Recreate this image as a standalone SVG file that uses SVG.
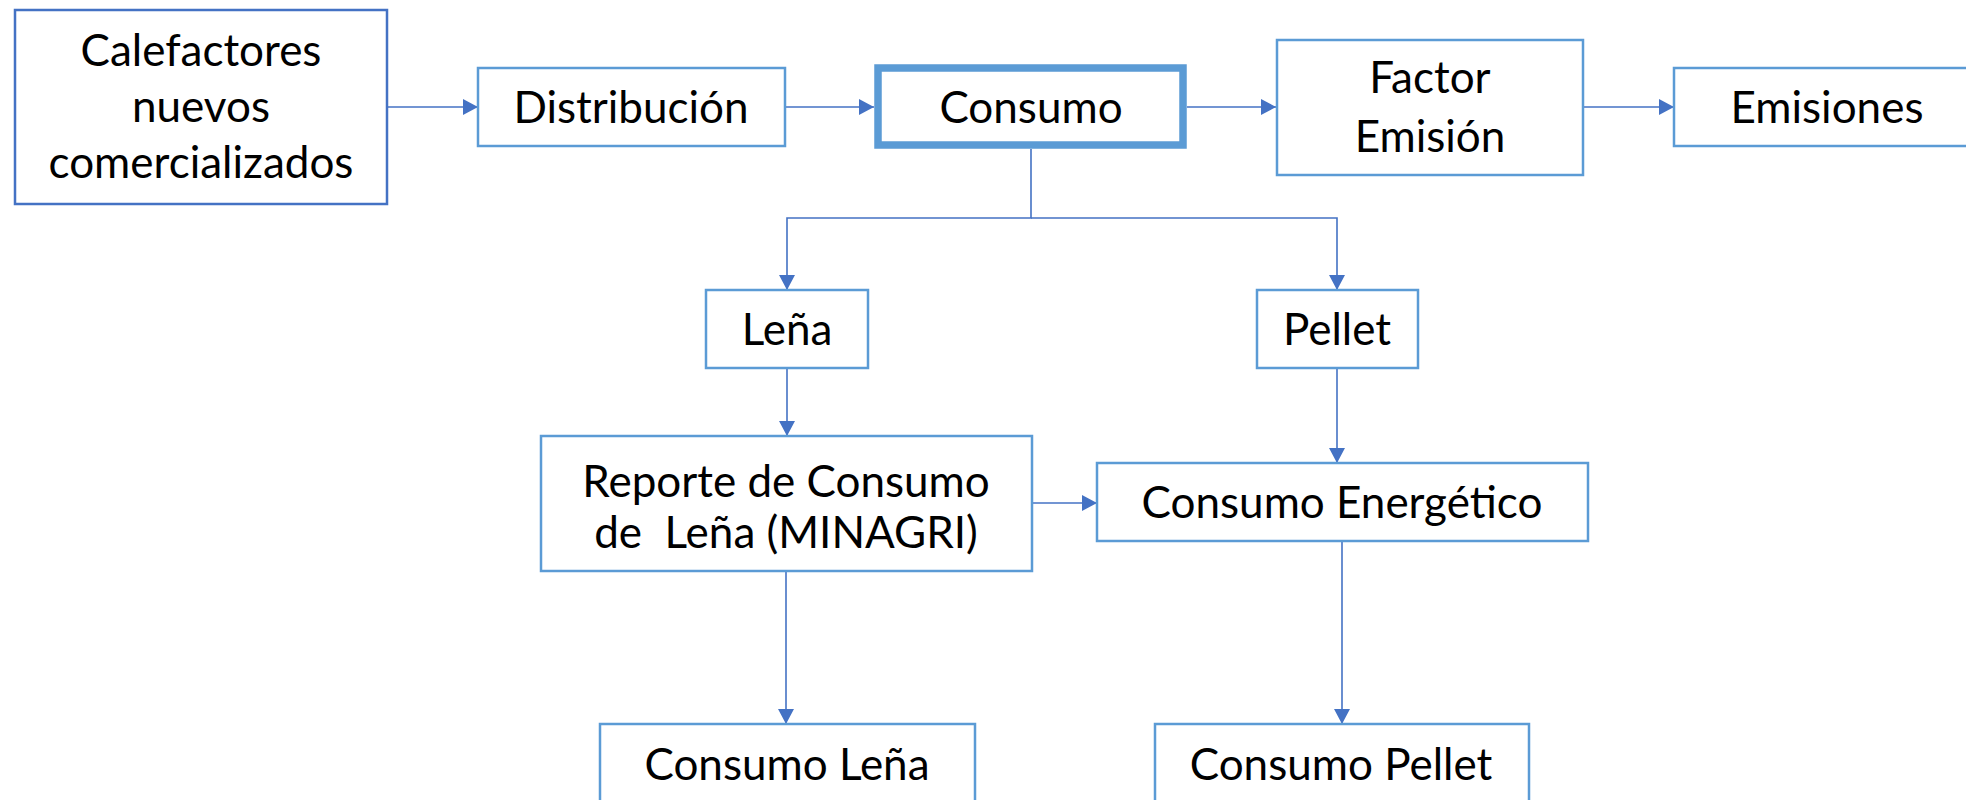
<svg xmlns="http://www.w3.org/2000/svg" width="1966" height="800" viewBox="0 0 1966 800">
<defs>
<style>
.box{fill:#ffffff;stroke:#5B9BD5;stroke-width:2.5}
.dark{stroke:#4472C4}
.thick{stroke-width:7.5}
.lbl{font-family:Lato,"Liberation Sans",sans-serif;font-size:44px;fill:#000000;text-anchor:middle}
.con{fill:none;stroke:#4472C4;stroke-width:1.6}
</style>
<marker id="arr" markerUnits="userSpaceOnUse" markerWidth="15" markerHeight="16" refX="15" refY="8" orient="auto">
<path d="M0,0 L15,8 L0,16 z" fill="#4472C4"/>
</marker>
</defs>
<rect width="1966" height="800" fill="#ffffff"/>
<g id="connectors">
<path class="con" d="M387,107 H478" marker-end="url(#arr)"/>
<path class="con" d="M785,107 H874" marker-end="url(#arr)"/>
<path class="con" d="M1187,107 H1276" marker-end="url(#arr)"/>
<path class="con" d="M1583,107 H1674" marker-end="url(#arr)"/>
<path class="con" d="M1031,149 V218 H787 V290" marker-end="url(#arr)"/>
<path class="con" d="M1031,218 H1337 V290" marker-end="url(#arr)"/>
<path class="con" d="M787,368 V436" marker-end="url(#arr)"/>
<path class="con" d="M1337,368 V463" marker-end="url(#arr)"/>
<path class="con" d="M1032,503 H1097" marker-end="url(#arr)"/>
<path class="con" d="M786,571 V724" marker-end="url(#arr)"/>
<path class="con" d="M1342,541 V724" marker-end="url(#arr)"/>
</g>
<g id="calefactores">
<rect class="box dark" x="15" y="10" width="372" height="194"/>
<text class="lbl" x="201" y="66">Calefactores</text>
<text class="lbl" x="201" y="122">nuevos</text>
<text class="lbl" x="201" y="178">comercializados</text>
</g>
<g id="distribucion">
<rect class="box" x="478" y="68" width="307" height="78"/>
<text class="lbl" x="631" y="123">Distribución</text>
</g>
<g id="consumo">
<rect class="box thick" x="878" y="68" width="305" height="77"/>
<text class="lbl" x="1031" y="123">Consumo</text>
</g>
<g id="factor-emision">
<rect class="box" x="1277" y="40" width="306" height="135"/>
<text class="lbl" x="1430" y="93">Factor</text>
<text class="lbl" x="1430" y="152">Emisión</text>
</g>
<g id="emisiones">
<rect class="box" x="1674" y="68" width="300" height="78"/>
<text class="lbl" x="1827" y="123">Emisiones</text>
</g>
<g id="lena">
<rect class="box" x="706" y="290" width="162" height="78"/>
<text class="lbl" x="787" y="345">Leña</text>
</g>
<g id="pellet">
<rect class="box" x="1257" y="290" width="161" height="78"/>
<text class="lbl" x="1337" y="345">Pellet</text>
</g>
<g id="reporte">
<rect class="box" x="541" y="436" width="491" height="135"/>
<text class="lbl" x="786" y="497">Reporte de Consumo</text>
<text class="lbl" x="786" y="548" xml:space="preserve">de  Leña (MINAGRI)</text>
</g>
<g id="consumo-energetico">
<rect class="box" x="1097" y="463" width="491" height="78"/>
<text class="lbl" x="1342" y="518">Consumo Energético</text>
</g>
<g id="consumo-lena">
<rect class="box" x="600" y="724" width="375" height="100"/>
<text class="lbl" x="787" y="780">Consumo Leña</text>
</g>
<g id="consumo-pellet">
<rect class="box" x="1155" y="724" width="374" height="100"/>
<text class="lbl" x="1341" y="780">Consumo Pellet</text>
</g>
</svg>
